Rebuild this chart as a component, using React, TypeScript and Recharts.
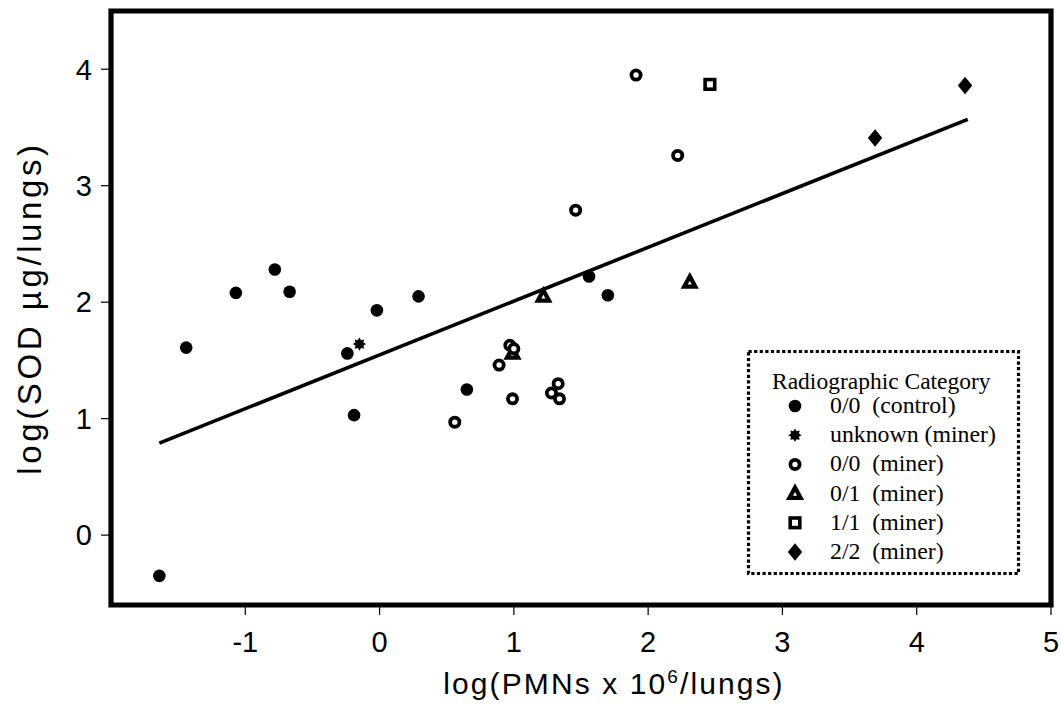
import React from 'react';
import {
  ScatterChart,
  Scatter,
  XAxis,
  YAxis,
  ReferenceArea,
  ReferenceLine,
  Legend,
} from 'recharts';

// ---------- data ----------
const xTicks = [-1, 0, 1, 2, 3, 4, 5];
const yTicks = [0, 1, 2, 3, 4];
const xDomain: [number, number] = [-2, 5];
const yDomain: [number, number] = [-0.6, 4.5];

const control00 = [
  { x: -1.64, y: -0.35 },
  { x: -1.44, y: 1.61 },
  { x: -1.07, y: 2.08 },
  { x: -0.78, y: 2.28 },
  { x: -0.67, y: 2.09 },
  { x: -0.24, y: 1.56 },
  { x: -0.19, y: 1.03 },
  { x: -0.02, y: 1.93 },
  { x: 0.29, y: 2.05 },
  { x: 0.65, y: 1.25 },
  { x: 1.56, y: 2.22 },
  { x: 1.7, y: 2.06 },
];
const unknownMiner = [{ x: -0.15, y: 1.64 }];
const miner00 = [
  { x: 0.56, y: 0.97 },
  { x: 0.89, y: 1.46 },
  { x: 0.99, y: 1.17 },
  { x: 0.97, y: 1.63 },
  { x: 1.0, y: 1.6 },
  { x: 1.28, y: 1.22 },
  { x: 1.33, y: 1.3 },
  { x: 1.34, y: 1.17 },
  { x: 1.46, y: 2.79 },
  { x: 1.91, y: 3.95 },
  { x: 2.22, y: 3.26 },
];
const miner01 = [
  { x: 0.99, y: 1.56 },
  { x: 1.22, y: 2.05 },
  { x: 2.31, y: 2.17 },
];
const miner11 = [{ x: 2.46, y: 3.87 }];
const miner22 = [
  { x: 3.69, y: 3.41 },
  { x: 4.36, y: 3.86 },
];
const fitLine = [
  { x: -1.64, y: 0.79 },
  { x: 4.38, y: 3.57 },
];

const xTitleMain = 'log(PMNs x 10';
const xTitleSup = '6';
const xTitleEnd = '/lungs)';
const yTitle = 'log(SOD \u00B5g/lungs)';
const legendTitle = 'Radiographic Category';
const legendLabels = [
  '0/0  (control)',
  'unknown (miner)',
  '0/0  (miner)',
  '0/1  (miner)',
  '1/1  (miner)',
  '2/2  (miner)',
];

// ---------- styles ----------
const SANS = '"Liberation Sans", Arial, Helvetica, sans-serif';
const SERIF = '"Liberation Serif", "Times New Roman", Times, serif';

// ---------- marker shapes ----------
type P = { cx?: number; cy?: number };

const FilledCircle = ({ cx = 0, cy = 0 }: P) => <circle cx={cx} cy={cy} r={6.3} fill="#000" />;
const OpenCircle = ({ cx = 0, cy = 0 }: P) => (
  <circle cx={cx} cy={cy} r={4.6} fill="#fff" stroke="#000" strokeWidth={3.8} />
);
const Triangle = ({ cx = 0, cy = 0 }: P) => (
  <polygon
    points={`${cx},${cy - 6} ${cx + 5.6},${cy + 4.3} ${cx - 5.6},${cy + 4.3}`}
    fill="#fff"
    stroke="#000"
    strokeWidth={4.2}
    strokeLinejoin="miter"
  />
);
const Square = ({ cx = 0, cy = 0 }: P) => (
  <rect x={cx - 4.8} y={cy - 4.8} width={9.6} height={9.6} fill="#fff" stroke="#000" strokeWidth={3.6} />
);
const Diamond = ({ cx = 0, cy = 0 }: P) => (
  <polygon
    points={`${cx},${cy - 8.8} ${cx + 7.2},${cy} ${cx},${cy + 8.8} ${cx - 7.2},${cy}`}
    fill="#000"
  />
);
const Star = ({ cx = 0, cy = 0 }: P) => {
  const pts: string[] = [];
  for (let i = 0; i < 16; i++) {
    const a = (Math.PI * i) / 8 - Math.PI / 2;
    const r = i % 2 === 0 ? 6.6 : 4.3;
    pts.push(`${cx + r * Math.cos(a)},${cy + r * Math.sin(a)}`);
  }
  return <polygon points={pts.join(' ')} fill="#000" />;
};

const legendShapes = [FilledCircle, Star, OpenCircle, Triangle, Square, Diamond];

const LegendBox = () => (
  <svg width={274} height={226} style={{ display: 'block', overflow: 'visible' }}>
    <rect
      x={1.5}
      y={1.5}
      width={270}
      height={222}
      fill="#fff"
      stroke="#000"
      strokeWidth={3.2}
      strokeDasharray="3.2 2.4"
    />
    <text x={25} y={38.5} fontFamily={SERIF} fontSize={23.5} fill="#000">
      {legendTitle}
    </text>
    {legendLabels.map((lab, i) => {
      const Shape = legendShapes[i];
      const ry = 56 + i * 29.2;
      return (
        <g key={lab}>
          <Shape cx={48} cy={ry} />
          <text
            x={83}
            y={ry + 7}
            fontFamily={SERIF}
            fontSize={23.8}
            fill="#000"
            style={{ whiteSpace: 'pre' }}
          >
            {lab}
          </text>
        </g>
      );
    })}
  </svg>
);

const XTitle = (props: any) => {
  const vb = props.viewBox || { x: 0, y: 0, width: 0, height: 0 };
  return (
    <text
      x={vb.x + vb.width / 2 + 33}
      y={vb.y + 89}
      textAnchor="middle"
      fontFamily={SANS}
      fontSize={30}
      fill="#000"
      style={{ letterSpacing: 2.1 }}
    >
      <tspan>{xTitleMain}</tspan>
      <tspan fontSize={19} dy={-11}>
        {xTitleSup}
      </tspan>
      <tspan dy={11}>{xTitleEnd}</tspan>
    </text>
  );
};

const YTitle = (props: any) => {
  const vb = props.viewBox || { x: 0, y: 0, width: 0, height: 0 };
  const cx = vb.x + 41.4;
  const cy = vb.y + vb.height / 2;
  return (
    <text
      transform={`translate(${cx},${cy}) rotate(-90)`}
      x={0}
      y={0}
      textAnchor="middle"
      fontFamily={SANS}
      fontSize={33}
      fill="#000"
      style={{ letterSpacing: 3.6 }}
    >
      {yTitle}
    </text>
  );
};

export default function App() {
  return (
    <>
      <style>{'html,body{margin:0;padding:0;background:#fff;overflow:hidden}'}</style>
      <ScatterChart
        width={1061}
        height={704}
        margin={{ top: 11, right: 10, bottom: 0, left: 0 }}
        style={{ background: '#fff' }}
      >
        <XAxis
          type="number"
          dataKey="x"
          domain={xDomain}
          ticks={xTicks}
          interval={0}
          allowDataOverflow
          axisLine={false}
          tickLine={{ stroke: '#000', strokeWidth: 1.2 }}
          tickSize={10}
          tickMargin={16}
          height={99}
          tick={{ fill: '#000', fontSize: 29, fontFamily: SANS }}
          label={<XTitle />}
        />
        <YAxis
          type="number"
          dataKey="y"
          domain={yDomain}
          ticks={yTicks}
          interval={0}
          allowDataOverflow
          axisLine={false}
          tickLine={{ stroke: '#000', strokeWidth: 1.2 }}
          tickSize={10}
          tickMargin={9}
          width={111}
          tick={{ fill: '#000', fontSize: 29, fontFamily: SANS }}
          label={<YTitle />}
        />
        <ReferenceLine
          segment={fitLine}
          stroke="#000"
          strokeWidth={3.6}
          ifOverflow="visible"
        />
        <Scatter data={control00} shape={FilledCircle} isAnimationActive={false} />
        <Scatter data={unknownMiner} shape={Star} isAnimationActive={false} />
        <Scatter data={miner01} shape={Triangle} isAnimationActive={false} />
        <Scatter data={miner00} shape={OpenCircle} isAnimationActive={false} />
        <Scatter data={miner11} shape={Square} isAnimationActive={false} />
        <Scatter data={miner22} shape={Diamond} isAnimationActive={false} />
        <ReferenceArea
          x1={xDomain[0]}
          x2={xDomain[1]}
          y1={yDomain[0]}
          y2={yDomain[1]}
          fill="none"
          stroke="#000"
          strokeWidth={5.2}
          ifOverflow="visible"
        />
        <Legend
          layout="vertical"
          align="center"
          verticalAlign="middle"
          content={() => <LegendBox />}
          wrapperStyle={{ left: 747, top: 350, width: 274, height: 226 }}
        />
      </ScatterChart>
    </>
  );
}
